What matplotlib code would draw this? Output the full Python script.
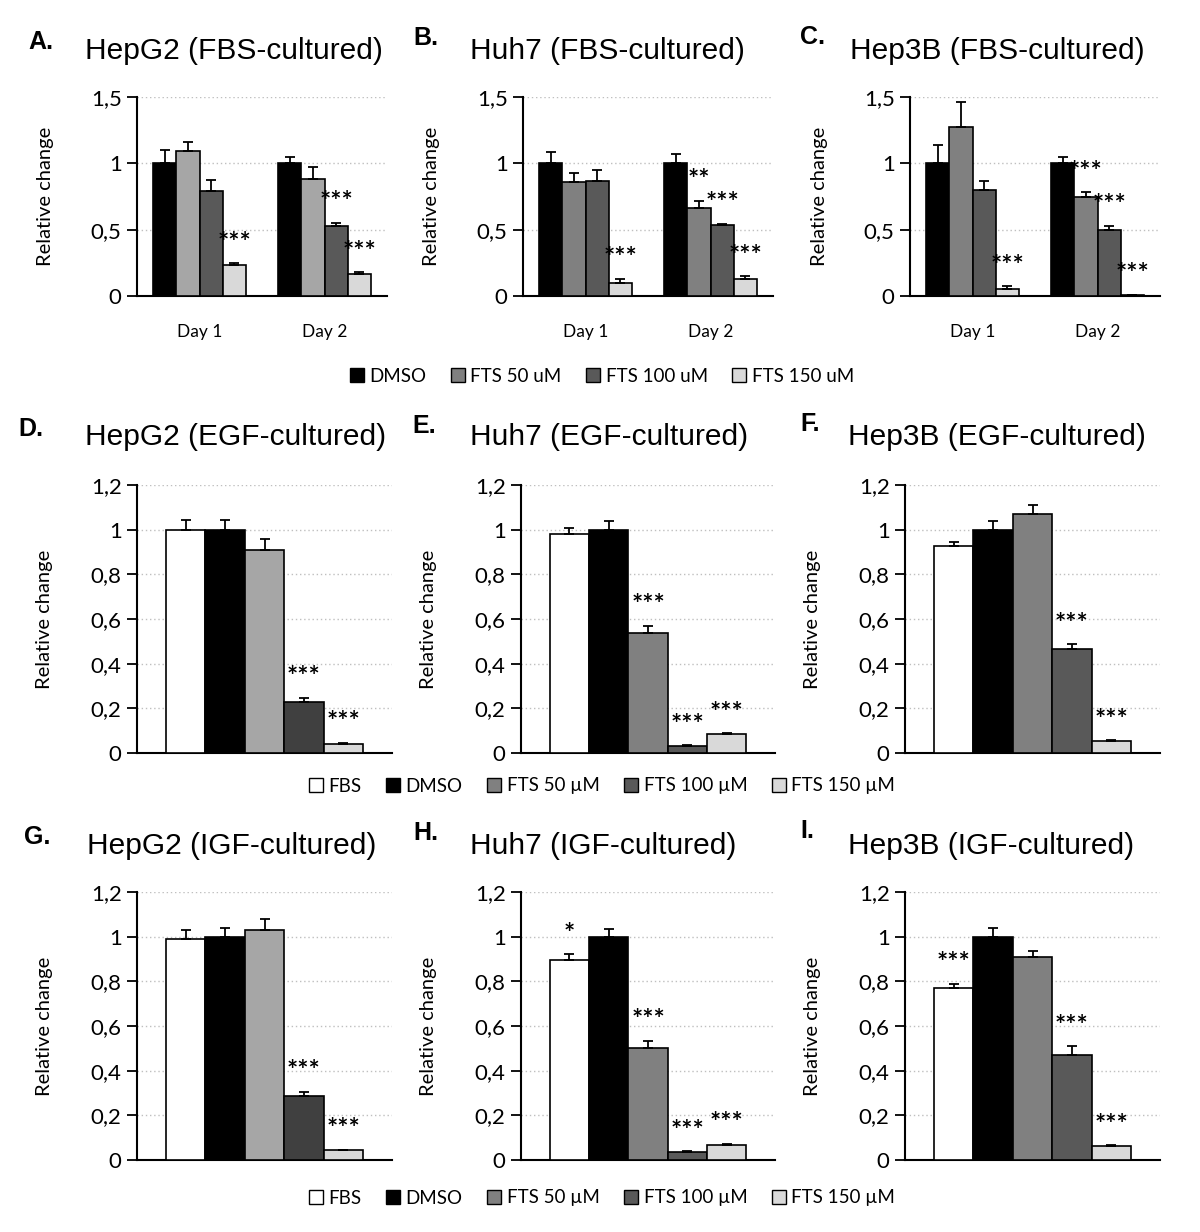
import numpy as np
import matplotlib
matplotlib.use('Agg')
import matplotlib.pyplot as plt
from matplotlib.patches import Patch

plt.rcParams['font.family'] = ['Lato', 'DejaVu Sans']

# ---- data ----
days = ['Day 1', 'Day 2']
fbs_series = ['DMSO', 'FTS 50 uM', 'FTS 100 uM', 'FTS 150 uM']
fbs_ticks = [0, 0.5, 1, 1.5]
fbs_ticklabels = ['0', '0,5', '1', '1,5']

# rows = series (DMSO, FTS50, FTS100, FTS150), columns = Day 1, Day 2
hepg2_fbs_mean = [[1.00, 1.00], [1.09, 0.88], [0.795, 0.53], [0.234, 0.166]]
hepg2_fbs_err = [[0.10, 0.05], [0.07, 0.09], [0.08, 0.024], [0.013, 0.014]]
hepg2_fbs_stars = [['', ''], ['', ''], ['', '***'], ['***', '***']]

huh7_fbs_mean = [[1.00, 1.00], [0.858, 0.667], [0.87, 0.536], [0.096, 0.13]]
huh7_fbs_err = [[0.085, 0.07], [0.07, 0.05], [0.08, 0.01], [0.035, 0.02]]
huh7_fbs_stars = [['', ''], ['', '**'], ['', '***'], ['***', '***']]

hep3b_fbs_mean = [[1.00, 1.00], [1.274, 0.745], [0.80, 0.496], [0.055, 0.008]]
hep3b_fbs_err = [[0.14, 0.047], [0.186, 0.038], [0.07, 0.035], [0.02, 0.003]]
hep3b_fbs_stars = [['', ''], ['', '***'], ['', '***'], ['***', '***']]

gf_series = ['FBS', 'DMSO', 'FTS 50 µM', 'FTS 100 µM', 'FTS 150 µM']
gf_ticks = [0, 0.2, 0.4, 0.6, 0.8, 1.0, 1.2]
gf_ticklabels = ['0', '0,2', '0,4', '0,6', '0,8', '1', '1,2']

hepg2_egf_mean = [1.00, 1.00, 0.909, 0.229, 0.042]
hepg2_egf_err = [0.045, 0.043, 0.05, 0.018, 0.003]
hepg2_egf_stars = ['', '', '', '***', '***']

huh7_egf_mean = [0.979, 1.00, 0.539, 0.03, 0.084]
huh7_egf_err = [0.027, 0.038, 0.03, 0.004, 0.004]
huh7_egf_stars = ['', '', '***', '***', '***']

hep3b_egf_mean = [0.926, 1.00, 1.07, 0.465, 0.054]
hep3b_egf_err = [0.021, 0.037, 0.04, 0.022, 0.003]
hep3b_egf_stars = ['', '', '', '***', '***']

hepg2_igf_mean = [0.988, 1.00, 1.028, 0.288, 0.043]
hepg2_igf_err = [0.043, 0.04, 0.052, 0.017, 0.003]
hepg2_igf_stars = ['', '', '', '***', '***']

huh7_igf_mean = [0.894, 1.00, 0.502, 0.036, 0.069]
huh7_igf_err = [0.028, 0.036, 0.033, 0.003, 0.004]
huh7_igf_stars = ['*', '', '***', '***', '***']

hep3b_igf_mean = [0.77, 1.00, 0.907, 0.472, 0.063]
hep3b_igf_err = [0.019, 0.04, 0.027, 0.038, 0.003]
hep3b_igf_stars = ['***', '', '', '***', '***']

# colours (HepG2 panels use a lighter FTS 50 and darker FTS 100 in the original)
fbs_colors_a = ['#000000', '#a6a6a6', '#595959', '#d9d9d9']
fbs_colors = ['#000000', '#808080', '#595959', '#d9d9d9']
gf_colors_a = ['#ffffff', '#000000', '#a6a6a6', '#404040', '#d9d9d9']
gf_colors = ['#ffffff', '#000000', '#808080', '#595959', '#d9d9d9']

W, H = 1200, 1232
fig = plt.figure(figsize=(W / 100, H / 100), dpi=100)


def px_axes(left, top, right, bottom):
    return fig.add_axes([left / W, 1 - bottom / H, (right - left) / W, (bottom - top) / H])


def style_axes(ax, ticks, labels):
    for s in ['top', 'right']:
        ax.spines[s].set_visible(False)
    for s in ['left', 'bottom']:
        ax.spines[s].set_linewidth(1.5)
    ax.set_ylim(0, ticks[-1])
    ax.set_yticks(ticks)
    ax.set_yticklabels(labels)
    ax.tick_params(axis='y', direction='out', length=7, width=1.3, labelsize=16, pad=4)
    ax.yaxis.grid(True, linestyle=(0, (1, 2)), color='#bfbfbf', linewidth=1)
    ax.set_axisbelow(True)
    ax.set_ylabel('Relative change', fontsize=14.5)
    ax.yaxis.set_label_coords(-0.33, 0.5)


ekw = dict(elinewidth=1.3, capthick=1.3, ecolor='black')
star_kw = dict(xytext=(0, 9), textcoords='offset points', ha='center', va='baseline',
               fontsize=19, fontweight='bold')


def draw_fbs(ax, means, errs, stars, colors):
    x = np.arange(len(days))
    w = 0.185
    for j in range(len(fbs_series)):
        pos = x + (j - 1.5) * w
        ax.bar(pos, means[j], w, color=colors[j], edgecolor='black', linewidth=1.2,
               yerr=[[0] * len(days), errs[j]], capsize=3.3, error_kw=ekw, zorder=3)
        for d in range(len(days)):
            if stars[j][d]:
                ax.annotate(stars[j][d], (pos[d], means[j][d] + errs[j][d]), **star_kw)
    style_axes(ax, fbs_ticks, fbs_ticklabels)
    ax.set_xlim(-0.5, 1.5)
    ax.set_xticks(x)
    ax.set_xticklabels(days)
    ax.tick_params(axis='x', length=0, labelsize=12.5, pad=20)


def draw_gf(ax, means, errs, stars, colors):
    x = np.arange(len(gf_series))
    ax.bar(x, means, 1.0, color=colors, edgecolor='black', linewidth=1.2,
           yerr=[[0] * len(x), errs], capsize=3.3, error_kw=ekw, zorder=3)
    for i in range(len(x)):
        if stars[i]:
            ax.annotate(stars[i], (x[i], means[i] + errs[i]), **star_kw)
    style_axes(ax, gf_ticks, gf_ticklabels)
    ax.set_xlim(-1.23, 5.23)
    ax.set_xticks([])


# top row
draw_fbs(px_axes(137, 97, 387, 296), hepg2_fbs_mean, hepg2_fbs_err, hepg2_fbs_stars, fbs_colors_a)
draw_fbs(px_axes(523, 97, 773, 296), huh7_fbs_mean, huh7_fbs_err, huh7_fbs_stars, fbs_colors)
draw_fbs(px_axes(910, 97, 1160, 296), hep3b_fbs_mean, hep3b_fbs_err, hep3b_fbs_stars, fbs_colors)

# middle row
draw_gf(px_axes(137, 485, 392, 753), hepg2_egf_mean, hepg2_egf_err, hepg2_egf_stars, gf_colors_a)
draw_gf(px_axes(521, 485, 775, 753), huh7_egf_mean, huh7_egf_err, huh7_egf_stars, gf_colors)
draw_gf(px_axes(905, 485, 1160, 753), hep3b_egf_mean, hep3b_egf_err, hep3b_egf_stars, gf_colors)

# bottom row
draw_gf(px_axes(137, 892, 392, 1160), hepg2_igf_mean, hepg2_igf_err, hepg2_igf_stars, gf_colors_a)
draw_gf(px_axes(521, 892, 775, 1160), huh7_igf_mean, huh7_igf_err, huh7_igf_stars, gf_colors)
draw_gf(px_axes(905, 892, 1160, 1160), hep3b_igf_mean, hep3b_igf_err, hep3b_igf_stars, gf_colors)

# panel letters and titles
letters = ['A.', 'B.', 'C.', 'D.', 'E.', 'F.', 'G.', 'H.', 'I.']
titles = ['HepG2 (FBS-cultured)', 'Huh7 (FBS-cultured)', 'Hep3B (FBS-cultured)',
          'HepG2 (EGF-cultured)', 'Huh7 (EGF-cultured)', 'Hep3B (EGF-cultured)',
          'HepG2 (IGF-cultured)', 'Huh7 (IGF-cultured)', 'Hep3B (IGF-cultured)']
letter_xy = [(28, 42), (413, 38), (800, 37), (18, 429), (412, 426), (800, 424),
             (24, 837), (413, 833), (800, 831)]
title_xy = [(85, 51), (470, 51), (850, 51), (85, 437), (470, 437), (848, 437),
            (87, 846), (470, 846), (848, 846)]
for lt, (lx, ly), tt, (tx, ty) in zip(letters, letter_xy, titles, title_xy):
    fig.text(lx / W, 1 - ly / H, lt, fontsize=18, fontweight='bold',
             family='Liberation Sans', ha='left', va='center')
    fig.text(tx / W, 1 - ty / H, tt, fontsize=21.5, family='Liberation Sans',
             ha='left', va='center')


# legends
def legend_row(labels, colors, y):
    handles = [Patch(facecolor=c, edgecolor='black', linewidth=1) for c in colors]
    fig.legend(handles, labels, loc='center', bbox_to_anchor=(602 / W, 1 - y / H),
               ncol=len(labels), frameon=False, fontsize=13.5, handlelength=0.75,
               handleheight=0.75, handletextpad=0.3, columnspacing=1.3)


legend_row(fbs_series, fbs_colors, 376)
legend_row(gf_series, gf_colors, 786)
legend_row(gf_series, gf_colors, 1198)

fig.savefig('out.png', dpi=100)
